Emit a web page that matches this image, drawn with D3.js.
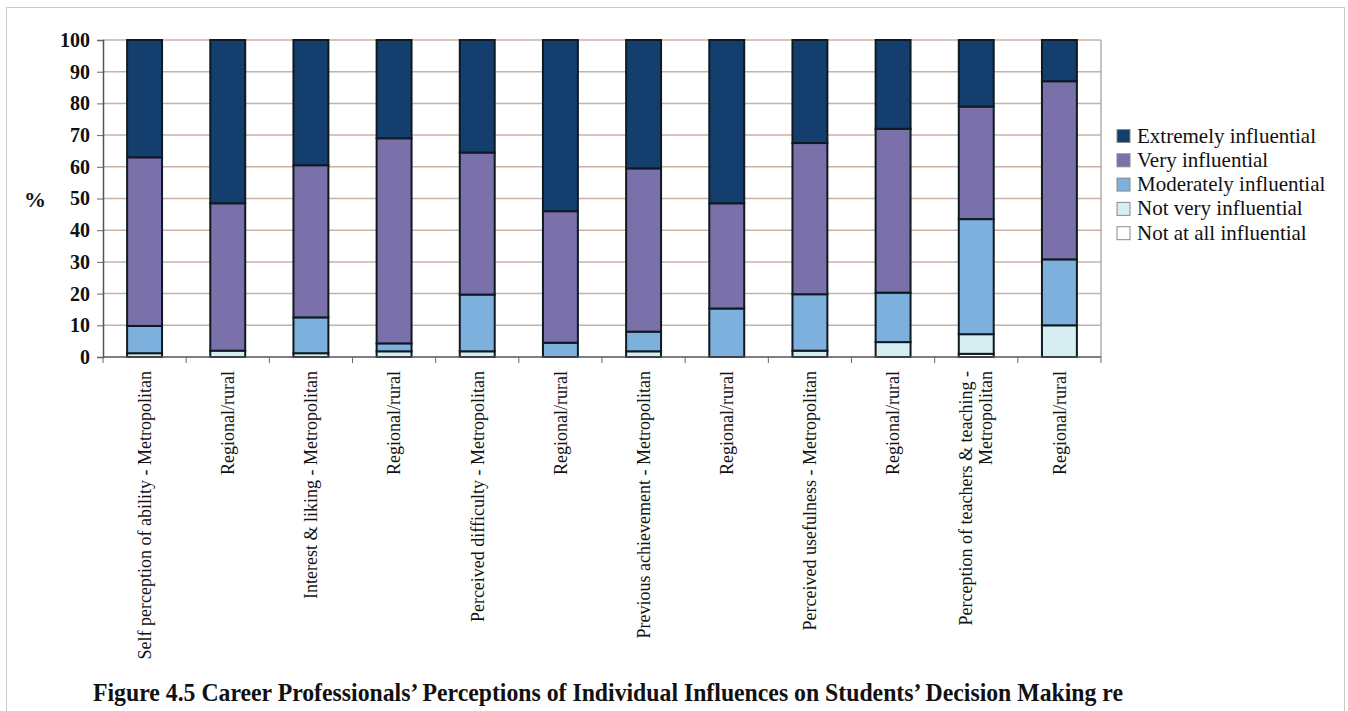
<!DOCTYPE html>
<meta charset="utf-8">
<head>
    <title>Career influences stacked bars</title>
    <script src="https://d3js.org/d3.v7.min.js"></script>
</head>

<style>
body { margin: 0; background: #fff; }
svg text { font-family: "Liberation Serif", "Times New Roman", "DejaVu Serif", serif !important; fill: #111; }
</style>

<body>
<svg></svg>

<script>

// categories along the x axis
let categories = [
  "Self perception of ability - Metropolitan", "Regional/rural",
  "Interest & liking - Metropolitan", "Regional/rural",
  "Perceived difficulty - Metropolitan", "Regional/rural",
  "Previous achievement - Metropolitan", "Regional/rural",
  "Perceived usefulness - Metropolitan", "Regional/rural",
  "Perception of teachers & teaching -|Metropolitan", "Regional/rural"
];

// series values (%), bottom to top
let notAtAll    = [0,   0,    0,    0,    0,    0,    0,    0,    0,    0,    1,    0];
let notVery     = [1.2, 2,    1.2,  1.8,  1.8,  0,    1.8,  0,    2,    4.7,  6.2,  10];
let moderately  = [8.6, 0,    11.3, 2.5,  17.9, 4.5,  6.2,  15.3, 17.8, 15.6, 36.3, 20.8];
let very        = [53.2, 46.5, 48,  64.7, 44.8, 41.5, 51.5, 33.2, 47.7, 51.7, 35.5, 56.2];
let extremely   = [37,  51.5, 39.5, 31,   35.5, 54,   40.5, 51.5, 32.5, 28,   21,   13];

let seriesNames = ["Not at all influential", "Not very influential", "Moderately influential", "Very influential", "Extremely influential"];
let seriesColors = ["#ffffff", "#d6eef2", "#7eb0de", "#7a70aa", "#143e6e"];
let yTicks = [0, 10, 20, 30, 40, 50, 60, 70, 80, 90, 100];

let W = 1348, H = 711;
let margin = {top: 40, left: 103, right: 247, bottom: 354};
let serif = "'Liberation Serif', 'Times New Roman', serif";

let svg = d3.select("svg").attr("width", W).attr("height", H)
  .attr("font-family", serif);

// outer frame
svg.append("rect")
  .attr("x", 6.5).attr("y", 7.5).attr("width", 1338).attr("height", 720)
  .attr("fill", "#fff").attr("stroke", "#c9c9c9");

let x = d3.scaleBand()
  .domain(d3.range(categories.length))
  .range([margin.left, W - margin.right])
  .paddingInner(0.58).paddingOuter(0.29);

let y = d3.scaleLinear().domain([0, 100]).range([H - margin.bottom, margin.top]);

// gridlines
svg.append("g").selectAll("line")
  .data(yTicks.filter(d => d > 0))
  .enter().append("line")
  .attr("x1", margin.left).attr("x2", W - margin.right)
  .attr("y1", d => y(d)).attr("y2", d => y(d))
  .attr("stroke", "#c8b2a6").attr("stroke-width", 1.5);

// right border of plot
svg.append("line")
  .attr("x1", W - margin.right).attr("x2", W - margin.right)
  .attr("y1", y(100)).attr("y2", y(0))
  .attr("stroke", "#9a9a9a").attr("stroke-width", 1.2);

// build table for stacking
let table = categories.map((c, i) => ({
  i: i,
  "Not at all influential": notAtAll[i],
  "Not very influential": notVery[i],
  "Moderately influential": moderately[i],
  "Very influential": very[i],
  "Extremely influential": extremely[i]
}));

let stacked = d3.stack().keys(seriesNames)(table);

svg.append("g").selectAll("g")
  .data(stacked)
  .enter().append("g")
  .attr("fill", (d, k) => seriesColors[k])
  .selectAll("rect")
  .data(d => d.filter(p => p[1] - p[0] > 0))
  .enter().append("rect")
  .attr("x", d => x(d.data.i))
  .attr("width", x.bandwidth())
  .attr("y", d => y(d[1]))
  .attr("height", d => y(d[0]) - y(d[1]))
  .attr("stroke", "#0e1a22").attr("stroke-width", 2);

// y axis
let yAxis = svg.append("g")
  .attr("transform", "translate(" + margin.left + ",0)")
  .call(d3.axisLeft(y).tickValues(yTicks).tickSize(6).tickPadding(7));
yAxis.attr("font-family", serif);
yAxis.select(".domain").attr("stroke", "#555").attr("stroke-width", 1.5);
yAxis.selectAll(".tick line").attr("stroke", "#666");
yAxis.selectAll("text")
  .style("font-size", "20px").style("font-weight", "bold").attr("fill", "#111");

// x axis: ticks at category boundaries
let bottom = y(0);
svg.append("line")
  .attr("x1", margin.left).attr("x2", W - margin.right)
  .attr("y1", bottom).attr("y2", bottom)
  .attr("stroke", "#555").attr("stroke-width", 1.5);
svg.append("g").selectAll("line")
  .data(d3.range(categories.length + 1))
  .enter().append("line")
  .attr("x1", i => margin.left + i * x.step())
  .attr("x2", i => margin.left + i * x.step())
  .attr("y1", bottom).attr("y2", bottom + 6)
  .attr("stroke", "#666");

// x labels, rotated
let lab = svg.append("g").selectAll("text")
  .data(categories)
  .enter().append("text")
  .attr("transform", (d, i) => "translate(" + (x(i) + x.bandwidth() / 2) + "," + (bottom + 14) + ") rotate(-90)")
  .attr("text-anchor", "end")
  .style("font-size", "18px");
lab.each(function(d) {
  let parts = d.split("|");
  let t = d3.select(this);
  parts.forEach((p, k) => {
    t.append("tspan")
      .attr("x", 0)
      .attr("dy", parts.length === 1 ? "0.35em" : (k === 0 ? "-0.25em" : "1.1em"))
      .text(p);
  });
});

// % label
svg.append("text")
  .attr("x", 35).attr("y", 207)
  .attr("text-anchor", "middle")
  .style("font-size", "22px").style("font-weight", "bold")
  .text("%");

// legend
let legendOrder = seriesNames.slice().reverse();
let legendColors = seriesColors.slice().reverse();
let lg = svg.append("g").selectAll("g")
  .data(legendOrder)
  .enter().append("g")
  .attr("transform", (d, k) => "translate(1117," + (136 + k * 24.3) + ")");
lg.append("rect")
  .attr("x", 0).attr("y", -6.5).attr("width", 13).attr("height", 13)
  .attr("fill", (d, k) => legendColors[k])
  .attr("stroke", "#8a8a8a");
lg.append("text")
  .attr("x", 20).attr("y", 6.5)
  .style("font-size", "21px")
  .text(d => d);

// caption
svg.append("text")
  .attr("x", 93).attr("y", 701)
  .attr("textLength", 1030).attr("lengthAdjust", "spacingAndGlyphs")
  .style("font-size", "25px").style("font-weight", "bold")
  .text("Figure 4.5 Career Professionals\u2019 Perceptions of Individual Influences on Students\u2019 Decision Making re");

</script>
</body>
